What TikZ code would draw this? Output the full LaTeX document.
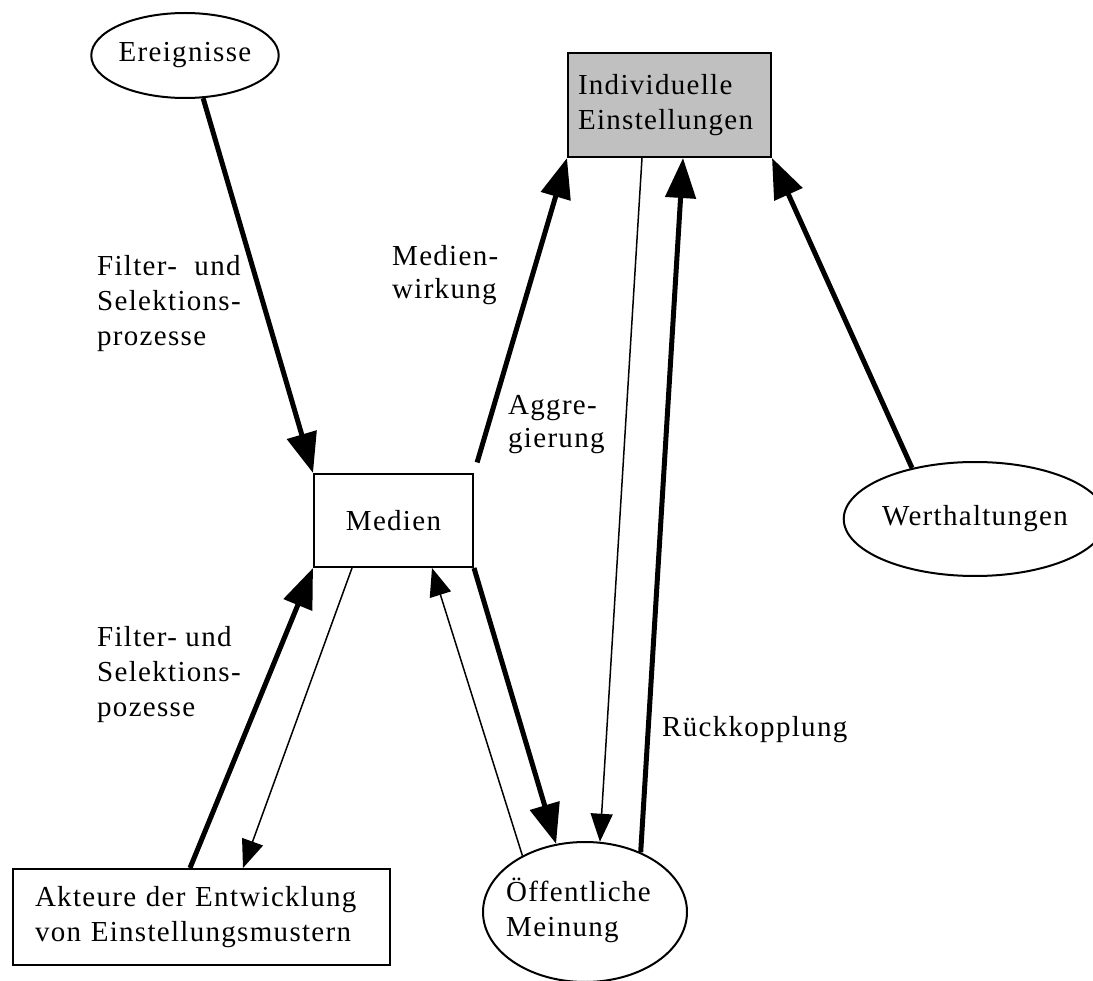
\documentclass[tikz,border=0pt]{standalone}
\usepackage{fontspec}
\setmainfont{Liberation Serif}[LetterSpace=4.5]
\usetikzlibrary{arrows.meta,shapes.geometric}
\definecolor{boxgray}{RGB}{192,192,192}

% stacked left-aligned lines whose anchor baseline is the first line
\newcommand\lblines[2]{\vtop{\baselineskip=#1\relax\halign{##\hfil\cr#2\crcr}}}

\tikzset{
  every node/.style={font=\fontsize{29}{35}\selectfont},
  boxnode/.style={draw, line width=2pt, rectangle, inner ysep=0pt, align=left},
  ovalnode/.style={draw, line width=2pt, ellipse, inner sep=0pt},
  heavy/.style={line width=5pt, -{Triangle[length=40pt,width=30pt]}},
  light/.style={line width=1.5pt, -{Triangle[length=28pt,width=22pt]}},
  lbl/.style={anchor=base west, inner sep=0pt},
}

\begin{document}
\begin{tikzpicture}[x=1pt, y=-1pt]
\useasboundingbox (0,0) rectangle (1093,981);

% nodes
\node[ovalnode, minimum width=180pt, minimum height=85pt] (ereig) at (185,55.5) {Ereignisse};
\node[boxnode, fill=boxgray, minimum width=203pt, minimum height=104pt,
      text width=183pt, inner xsep=10pt] (indiv) at (669.5,105) {Individuelle\\Einstellungen};
\node[boxnode, minimum width=159pt, minimum height=93pt] (medien) at (393.5,520.5) {\raisebox{-5pt}{Medien}};
\node[ovalnode, minimum width=234pt, minimum height=114pt] (werth) at (975,519) {Werthaltungen};
\node[boxnode, minimum width=377pt, minimum height=96pt,
      text width=333pt, inner xsep=22pt] (akteure) at (201.5,917) {Akteure der Entwicklung\\von Einstellungsmustern};
\node[ovalnode, minimum width=204pt, minimum height=140pt] (oeff) at (585,912)
  {\makebox[0pt]{\hspace{-13pt}\begin{tabular}{@{}l@{}}Öffentliche\\Meinung\end{tabular}}};

% connectors
\draw[heavy] (ereig.-67) -- (medien.north west);
\draw[heavy, shorten <=11pt] (medien.north east) -- (indiv.south west);
\draw[light] ([xshift=-27.5pt]indiv.south) -- (oeff.78);
\draw[heavy] (oeff.47) -- ([xshift=13.5pt]indiv.south);
\draw[heavy] (werth.141) -- (indiv.south east);
\draw[heavy] ([xshift=-11.5pt]akteure.north) -- (medien.south west);
\draw[light] ([xshift=-41.5pt]medien.south) -- ([xshift=41.5pt]akteure.north);
\draw[light] (oeff.138) -- ([xshift=38.5pt]medien.south);
\draw[heavy] (medien.south east) -- (oeff.113);

% labels
\node[lbl] (fsp1) at (97,276) {\lblines{35pt}{Filter- \hspace{9pt}und\cr Selektions-\cr prozesse}};
\node[lbl] (mw) at (392,266) {\lblines{33pt}{Medien-\cr wirkung}};
\node[lbl] (agg) at (508,415) {\lblines{33pt}{Aggre-\cr gierung}};
\node[lbl] (fsp2) at (97,646) {\lblines{35pt}{Filter- und\cr Selektions-\cr pozesse}};
\node[lbl] (rk) at (662,736) {Rückkopplung};
\end{tikzpicture}
\end{document}
